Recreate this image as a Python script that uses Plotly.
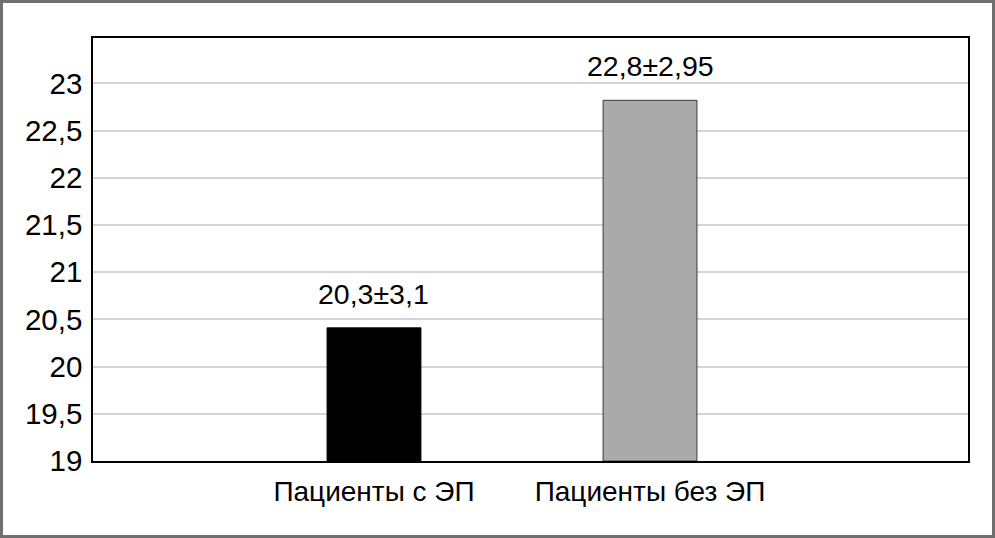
import plotly.graph_objects as go

categories = ["Пациенты с ЭП", "Пациенты без ЭП"]
values = [20.41, 22.82]
value_labels = ["20,3±3,1", "22,8±2,95"]
y_ticks = [19, 19.5, 20, 20.5, 21, 21.5, 22, 22.5, 23]
y_tick_labels = ["19", "19,5", "20", "20,5", "21", "21,5", "22", "22,5", "23"]
bar_colors = ["#000000", "#aaaaaa"]
bar_edges = ["#000000", "#3a3a3a"]
Y_MIN, Y_MAX = 19, 23.48

W, H = 995, 538
ML, MR, MT, MB = 93, 27, 38, 77
PW, PH = W - ML - MR, H - MT - MB

FONT = "Liberation Sans, Arial, sans-serif"

xpos = list(range(len(categories)))

fig = go.Figure()
fig.add_trace(go.Bar(
    x=xpos, y=[v - Y_MIN for v in values], base=Y_MIN,
    marker=dict(color=bar_colors, line=dict(color=bar_edges, width=1)),
    width=0.34,
    showlegend=False, hoverinfo="skip",
))
for xi, v, lab in zip(xpos, values, value_labels):
    fig.add_annotation(x=xi, y=v, text=lab, showarrow=False,
                       xanchor="center", yanchor="bottom", yshift=16,
                       font=dict(family=FONT, size=28.5, color="#000000"))

fig.update_layout(
    width=W, height=H,
    margin=dict(l=ML, r=MR, t=MT, b=MB, autoexpand=False),
    paper_bgcolor="white", plot_bgcolor="white",
    font=dict(family=FONT, size=28, color="#000000"),
    xaxis=dict(type="linear", range=[-1.018, 2.152], tickvals=xpos, ticktext=categories,
               showgrid=False, zeroline=False, showline=True, mirror=True,
               linecolor="#000000", linewidth=1.5, ticks="", automargin=False,
               ticklabelstandoff=5,
               tickfont=dict(family=FONT, size=28)),
    yaxis=dict(range=[Y_MIN, Y_MAX], tickvals=y_ticks, ticktext=y_tick_labels,
               showgrid=True, gridcolor="#d4d4d4", gridwidth=1.5,
               zeroline=False, showline=True, mirror=True,
               linecolor="#000000", linewidth=1.5, ticks="", automargin=False,
               ticklabelstandoff=3,
               tickfont=dict(family=FONT, size=29.5)),
    shapes=[dict(type="rect", xref="paper", yref="paper",
                 x0=-(ML - 1.5) / PW, x1=1 + (MR - 1.5) / PW,
                 y0=-(MB - 1.5) / PH, y1=1 + (MT - 1.5) / PH,
                 line=dict(color="#707070", width=3), layer="above")],
)

fig.write_html("out.html", config={"displayModeBar": False},
               post_script="document.body.style.margin='0';document.body.style.padding='0';document.body.style.overflow='hidden';")
